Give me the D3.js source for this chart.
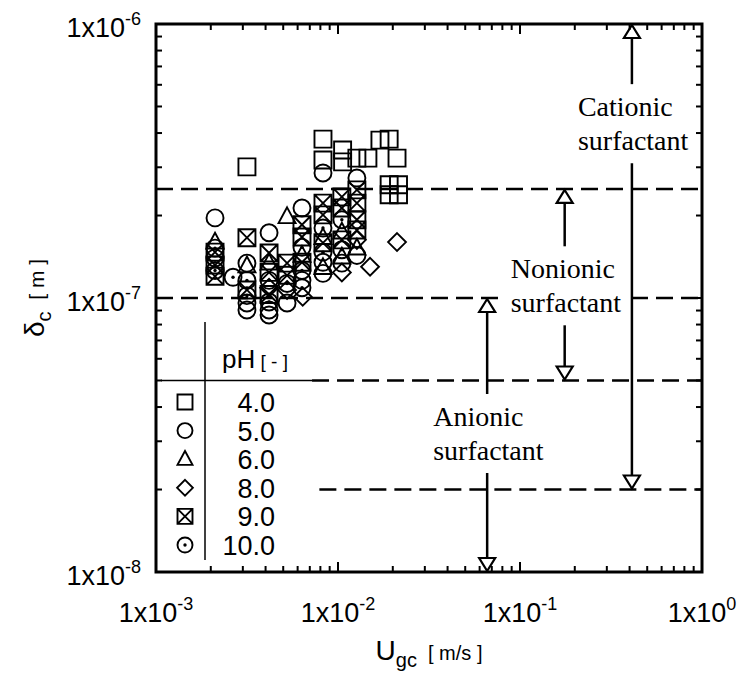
<!DOCTYPE html>
<html>
<head>
<meta charset="utf-8">
<script src="https://cdn.jsdelivr.net/npm/d3@7"></script>
<style>
  body { margin: 0; background: #fff; }
</style>
</head>
<body>
<div id="chart"></div>
<script>
'use strict';

// legend: pH of each series and the marker used for it
const phLabels = ["4.0", "5.0", "6.0", "8.0", "9.0", "10.0"];
const phSymbols = ["square", "circle", "triangle", "diamond", "xsquare", "dotcircle"];

// U_gc [m/s] and delta_c [m]
const ph4X = [3.16e-3, 8.27e-3, 8.27e-3, 1.06e-2, 1.06e-2, 1.27e-2, 1.46e-2, 1.70e-2, 1.91e-2, 2.11e-2, 1.91e-2, 2.15e-2, 1.91e-2, 2.15e-2];
const ph4Y = [3.01e-7, 3.80e-7, 3.19e-7, 3.47e-7, 3.14e-7, 3.24e-7, 3.24e-7, 3.77e-7, 3.80e-7, 3.24e-7, 2.59e-7, 2.59e-7, 2.38e-7, 2.38e-7];

const ph5X = [2.11e-3, 2.11e-3, 3.16e-3, 3.16e-3, 3.16e-3, 4.18e-3, 4.18e-3, 4.18e-3, 5.25e-3, 6.34e-3, 6.34e-3, 8.27e-3, 8.27e-3, 8.27e-3, 1.05e-2, 1.27e-2, 1.27e-2];
const ph5Y = [1.96e-7, 1.40e-7, 1.34e-7, 9.59e-8, 9.04e-8, 1.73e-7, 9.04e-8, 8.67e-8, 9.59e-8, 2.13e-7, 1.16e-7, 2.86e-7, 1.35e-7, 1.23e-7, 1.34e-7, 2.74e-7, 1.43e-7];

const ph6X = [2.11e-3, 3.16e-3, 4.18e-3, 5.25e-3, 6.34e-3, 8.27e-3, 8.27e-3, 1.05e-2, 1.05e-2, 1.27e-2];
const ph6Y = [1.60e-7, 1.31e-7, 1.34e-7, 1.98e-7, 1.43e-7, 1.66e-7, 1.29e-7, 1.74e-7, 1.41e-7, 1.52e-7];

const ph8X = [4.18e-3, 5.25e-3, 6.40e-3, 1.05e-2, 1.27e-2, 1.50e-2, 2.11e-2];
const ph8Y = [1.09e-7, 1.07e-7, 1.01e-7, 1.24e-7, 1.63e-7, 1.30e-7, 1.60e-7];

const ph9X = [2.11e-3, 2.11e-3, 2.11e-3, 3.16e-3, 3.16e-3, 4.18e-3, 4.18e-3, 4.18e-3, 5.25e-3, 5.25e-3, 6.34e-3, 6.34e-3, 6.34e-3, 8.27e-3, 8.27e-3, 8.27e-3, 1.05e-2, 1.05e-2, 1.05e-2, 1.27e-2, 1.27e-2, 1.27e-2, 1.27e-2];
const ph9Y = [1.47e-7, 1.32e-7, 1.20e-7, 1.66e-7, 1.07e-7, 1.46e-7, 1.24e-7, 1.03e-7, 1.34e-7, 1.21e-7, 1.85e-7, 1.67e-7, 1.35e-7, 2.22e-7, 2.01e-7, 1.59e-7, 2.34e-7, 2.13e-7, 1.63e-7, 2.48e-7, 2.22e-7, 1.93e-7, 1.77e-7];

const ph10X = [2.11e-3, 2.11e-3, 2.65e-3, 3.16e-3, 3.16e-3, 4.18e-3, 4.18e-3, 5.25e-3, 6.34e-3, 6.34e-3, 6.34e-3, 8.27e-3, 8.27e-3, 1.05e-2, 1.05e-2];
const ph10Y = [1.52e-7, 1.26e-7, 1.19e-7, 1.16e-7, 1.02e-7, 1.16e-7, 9.67e-8, 1.13e-7, 1.53e-7, 1.26e-7, 1.09e-7, 1.80e-7, 1.47e-7, 1.93e-7, 1.50e-7];

// horizontal dashed limits [m] and the U_gc where each one starts
const limitY = [2.5e-7, 1e-7, 5e-8, 2e-8];
const limitStart = [1e-3, 1e-3, 7.2e-3, 7.9e-3];

// surfactant ranges drawn as double arrows
const bandNames = ["Cationic", "Nonionic", "Anionic"];
const bandX = [0.412, 0.176, 0.066];
const bandTop = [1e-6, 2.5e-7, 1e-7];
const bandBottom = [2e-8, 5e-8, 1e-8];
const bandTextY = [4.61e-7, 1.18e-7, 3.41e-8];

const xTickLabels = ["-3", "-2", "-1", "0"];
const yTickLabels = ["-6", "-7", "-8"];

(function() {

  const m = {
    width: 743,
    height: 673,
    left: 156,
    right: 702,
    top: 24,
    bottom: 572
  };

  let svg = d3.select('#chart')
    .append('svg')
    .attr('width', m.width)
    .attr('height', m.height)
    .style('font-family', '"Liberation Sans", Arial, sans-serif');

  let xScale = d3.scaleLog().domain([1e-3, 1]).range([m.left, m.right]);
  let yScale = d3.scaleLog().domain([1e-8, 1e-6]).range([m.bottom, m.top]);

  let series = [
    { x: ph4X, y: ph4Y },
    { x: ph5X, y: ph5Y },
    { x: ph6X, y: ph6Y },
    { x: ph8X, y: ph8Y },
    { x: ph9X, y: ph9Y },
    { x: ph10X, y: ph10Y }
  ];

  drawLimits();
  drawPoints();
  drawBands();
  drawFrame();
  drawLegend();
  makeLabels();

  function symbolPath(type, s) {
    let h = s / 2;
    let sq = 'M' + (-h) + ',' + (-h) + 'H' + h + 'V' + h + 'H' + (-h) + 'Z';
    let ci = 'M' + (-h) + ',0A' + h + ',' + h + ' 0 1 0 ' + h + ',0A' + h + ',' + h + ' 0 1 0 ' + (-h) + ',0Z';
    if (type == "square") return sq;
    if (type == "circle" || type == "dotcircle") return ci;
    if (type == "triangle") return 'M0,' + (-h * 1.1) + 'L' + (h * 1.0) + ',' + (h * 0.75) + 'L' + (-h * 1.0) + ',' + (h * 0.75) + 'Z';
    if (type == "diamond") return 'M0,' + (-h * 1.05) + 'L' + (h * 1.05) + ',0L0,' + (h * 1.05) + 'L' + (-h * 1.05) + ',0Z';
    if (type == "xsquare") return sq + 'M' + (-h) + ',' + (-h) + 'L' + h + ',' + h + 'M' + h + ',' + (-h) + 'L' + (-h) + ',' + h;
    return sq;
  }

  function addMarker(g, type, cx, cy, s) {
    g.append('path')
      .attr('transform', 'translate(' + cx + ',' + cy + ')')
      .attr('d', symbolPath(type, s))
      .attr('fill', 'none')
      .attr('stroke', '#000')
      .attr('stroke-width', 1.9);
    if (type == "dotcircle") {
      g.append('circle')
        .attr('cx', cx)
        .attr('cy', cy)
        .attr('r', 1.7)
        .attr('fill', '#000');
    }
  }

  function drawPoints() {
    let g = svg.append('g');
    series.forEach(function(ser, i) {
      ser.x.forEach(function(xv, j) {
        addMarker(g, phSymbols[i], xScale(xv), yScale(ser.y[j]), 17);
      });
    });
  }

  function drawLimits() {
    svg.selectAll('.limit')
      .data(limitY)
      .enter()
      .append('line')
      .attr('class', 'limit')
      .attr('x1', (d, i) => xScale(limitStart[i]))
      .attr('x2', m.right)
      .attr('y1', d => yScale(d))
      .attr('y2', d => yScale(d))
      .attr('stroke', '#000')
      .attr('stroke-width', 2.5)
      .attr('stroke-dasharray', '17,8');
  }

  function arrowHead(g, x, tipY, dir) {
    // dir = -1 points up, 1 points down
    let w = 8, hgt = 13;
    g.append('path')
      .attr('d', 'M' + x + ',' + tipY + 'L' + (x + w) + ',' + (tipY - dir * hgt) + 'L' + (x - w) + ',' + (tipY - dir * hgt) + 'Z')
      .attr('fill', '#fff')
      .attr('stroke', '#000')
      .attr('stroke-width', 2.2)
      .attr('stroke-linejoin', 'miter');
  }

  function drawBands() {
    let g = svg.append('g');
    bandNames.forEach(function(name, i) {
      let x = xScale(bandX[i]);
      let yTop = yScale(bandTop[i]);
      let yBot = yScale(bandBottom[i]);
      let ty = yScale(bandTextY[i]);

      g.append('line')
        .attr('x1', x).attr('x2', x)
        .attr('y1', yTop + 12).attr('y2', ty - 32)
        .attr('stroke', '#000').attr('stroke-width', 2.5);
      g.append('line')
        .attr('x1', x).attr('x2', x)
        .attr('y1', ty + 47).attr('y2', yBot - 12)
        .attr('stroke', '#000').attr('stroke-width', 2.5);
      arrowHead(g, x, yTop + 1, -1);
      arrowHead(g, x, yBot - 1, 1);

      // white box so the dashed limits stop short of the words
      let box = g.append('rect').attr('fill', '#fff');
      let t = g.append('text')
        .attr('x', x - 54)
        .attr('y', ty)
        .style('font-family', '"Liberation Serif", "Times New Roman", serif')
        .style('font-size', '28px');
      t.append('tspan').attr('x', x - 54).text(name);
      t.append('tspan').attr('x', x - 54).attr('dy', 34).text('surfactant');
      let bb = t.node().getBBox();
      box.attr('x', bb.x - 5).attr('y', bb.y + 4)
        .attr('width', bb.width + 10).attr('height', bb.height - 4);
    });
  }

  function drawFrame() {
    let g = svg.append('g');
    let xt = xScale.ticks();
    let yt = yScale.ticks();
    let isMajor = function(v) {
      let l = Math.log10(v);
      return Math.abs(l - Math.round(l)) < 1e-6;
    };

    xt.forEach(function(v) {
      let x = xScale(v);
      let len = isMajor(v) ? 10 : 6;
      g.append('line').attr('x1', x).attr('x2', x).attr('y1', m.bottom).attr('y2', m.bottom - len)
        .attr('stroke', '#000').attr('stroke-width', 2);
      g.append('line').attr('x1', x).attr('x2', x).attr('y1', m.top).attr('y2', m.top + len)
        .attr('stroke', '#000').attr('stroke-width', 2);
    });
    yt.forEach(function(v) {
      let y = yScale(v);
      let len = isMajor(v) ? 10 : 6;
      g.append('line').attr('x1', m.left).attr('x2', m.left + len).attr('y1', y).attr('y2', y)
        .attr('stroke', '#000').attr('stroke-width', 2);
      g.append('line').attr('x1', m.right).attr('x2', m.right - len).attr('y1', y).attr('y2', y)
        .attr('stroke', '#000').attr('stroke-width', 2);
    });

    g.append('rect')
      .attr('x', m.left)
      .attr('y', m.top)
      .attr('width', m.right - m.left)
      .attr('height', m.bottom - m.top)
      .attr('fill', 'none')
      .attr('stroke', '#000')
      .attr('stroke-width', 3);

    // tick labels, 1x10^n
    let xMajors = xt.filter(isMajor);
    xMajors.forEach(function(v, i) {
      let t = svg.append('text')
        .attr('x', xScale(v))
        .attr('y', 622)
        .attr('text-anchor', 'middle')
        .style('font-size', '27px');
      t.append('tspan').text('1x10');
      t.append('tspan').attr('dy', -12).style('font-size', '18px').text(xTickLabels[i]);
    });

    let yMajors = yt.filter(isMajor).sort((a, b) => b - a);
    yMajors.forEach(function(v, i) {
      let t = svg.append('text')
        .attr('x', 141)
        .attr('y', yScale(v) + 13)
        .attr('text-anchor', 'end')
        .style('font-size', '27px');
      t.append('tspan').text('1x10');
      t.append('tspan').attr('dy', -12).style('font-size', '18px').text(yTickLabels[i]);
    });
  }

  function drawLegend() {
    let g = svg.append('g');
    g.append('line')
      .attr('x1', 205).attr('x2', 205)
      .attr('y1', 322).attr('y2', 560)
      .attr('stroke', '#000').attr('stroke-width', 1.5);
    g.append('line')
      .attr('x1', 161).attr('x2', xScale(limitStart[2]))
      .attr('y1', yScale(5e-8)).attr('y2', yScale(5e-8))
      .attr('stroke', '#000').attr('stroke-width', 1.5);

    let head = g.append('text')
      .attr('x', 222)
      .attr('y', 368)
      .style('font-size', '26px');
    head.append('tspan').text('pH');
    head.append('tspan').style('font-size', '19px').text(' [ - ]');

    phLabels.forEach(function(lab, i) {
      let cy = 402 + i * 28.6;
      addMarker(g, phSymbols[i], 185, cy, 15);
      g.append('text')
        .attr('x', 275)
        .attr('y', cy + 10)
        .attr('text-anchor', 'end')
        .style('font-size', '27px')
        .text(lab);
    });
  }

  function makeLabels() {
    let cx = (m.left + m.right) / 2;
    let xt = svg.append('text')
      .attr('x', cx)
      .attr('y', 660)
      .attr('text-anchor', 'middle')
      .style('font-size', '28px');
    xt.append('tspan').text('U');
    xt.append('tspan').attr('dy', 7).style('font-size', '20px').text('gc');
    xt.append('tspan').attr('dy', -7).style('font-size', '20px').text('\u00a0\u00a0[ m/s ]');

    let cy = (m.top + m.bottom) / 2;
    let yt = svg.append('text')
      .attr('transform', 'translate(44,' + cy + ')rotate(-90)')
      .attr('text-anchor', 'middle')
      .style('font-size', '28px');
    yt.append('tspan').text('\u03b4');
    yt.append('tspan').attr('dy', 7).style('font-size', '20px').text('c');
    yt.append('tspan').attr('dy', -7).style('font-size', '21px').text('\u00a0\u00a0[ m ]');
  }

})();
</script>
</body>
</html>
